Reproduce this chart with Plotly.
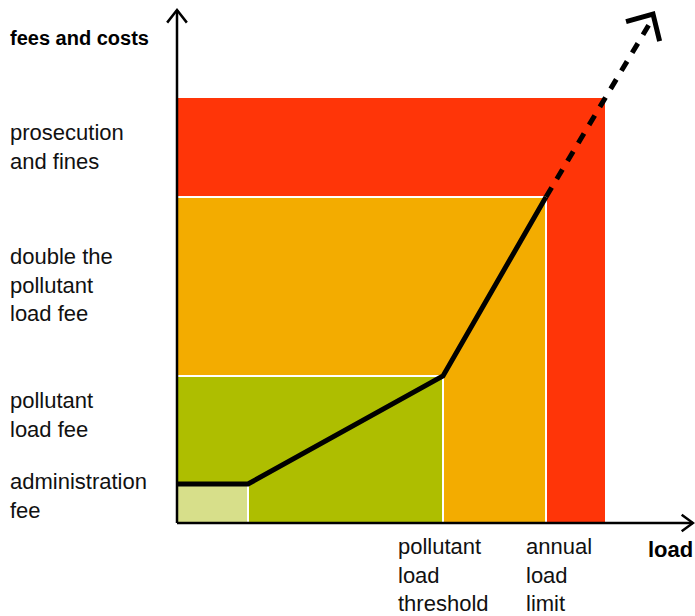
import math
import plotly.graph_objects as go

# ---- data (units: load on x, fees/costs on y) ----
zone_names = ["prosecution and fines", "double the pollutant load fee", "pollutant load fee", "administration fee"]
zone_load_end = [428, 369, 266, 71]      # right edge of each zone
zone_cost_top = [425, 326, 147, 39]      # top edge of each zone
zone_colors = ["#FF3508", "#F3AC00", "#AEBE00", "#D7DF8A"]

curve_load = [0, 71, 266, 369]
curve_cost = [39, 39, 147, 326]
trend_load = [369, 476]
trend_cost = [326, 509]

axis_x_end = 516
axis_y_end = 513

left_labels = ["prosecution<br>and fines", "double the<br>pollutant<br>load fee",
               "pollutant<br>load fee", "administration<br>fee"]
left_label_y = [376, 238, 108, 27]
bottom_labels = ["pollutant<br>load<br>threshold", "annual<br>load<br>limit"]
bottom_label_x = [219, 347]

FONT = "Liberation Sans"

fig = go.Figure()

# zones
shapes = []
for i, (xe, yt, c) in enumerate(zip(zone_load_end, zone_cost_top, zone_colors)):
    shapes.append(dict(type="rect", xref="x", yref="y", x0=0, x1=xe, y0=0, y1=yt,
                       fillcolor=c, line=dict(color="white", width=0 if i == 0 else 2),
                       layer="below"))

# axes lines
fig.add_trace(go.Scatter(x=[0, 0], y=[0, axis_y_end], mode="lines",
                         line=dict(color="black", width=2.5), hoverinfo="skip"))
fig.add_trace(go.Scatter(x=[0, axis_x_end], y=[0, 0], mode="lines",
                         line=dict(color="black", width=2.5), hoverinfo="skip"))


def chevron(tip, direction, length, half_angle_deg):
    dx, dy = direction
    n = math.hypot(dx, dy)
    bx, by = -dx / n, -dy / n
    pts = []
    for s in (1, -1):
        a = math.radians(s * half_angle_deg)
        rx = bx * math.cos(a) - by * math.sin(a)
        ry = bx * math.sin(a) + by * math.cos(a)
        pts.append((tip[0] + rx * length, tip[1] + ry * length))
    return [pts[0][0], tip[0], pts[1][0]], [pts[0][1], tip[1], pts[1][1]]


cx, cy = chevron((0, axis_y_end), (0, 1), 16, 38)
fig.add_trace(go.Scatter(x=cx, y=cy, mode="lines", line=dict(color="black", width=2.5), hoverinfo="skip"))
cx, cy = chevron((axis_x_end, 0), (1, 0), 14, 36)
fig.add_trace(go.Scatter(x=cx, y=cy, mode="lines", line=dict(color="black", width=2.5), hoverinfo="skip"))

# cost curve
fig.add_trace(go.Scatter(x=curve_load, y=curve_cost, mode="lines",
                         line=dict(color="black", width=5), hoverinfo="skip"))
fig.add_trace(go.Scatter(x=trend_load, y=[trend_cost[0], trend_cost[1] - 4], mode="lines",
                         line=dict(color="black", width=5, dash="11px,10px"), hoverinfo="skip"))
cx, cy = chevron((trend_load[1], trend_cost[1]),
                 (trend_load[1] - trend_load[0], trend_cost[1] - trend_cost[0]), 28, 44)
fig.add_trace(go.Scatter(x=cx, y=cy, mode="lines", line=dict(color="black", width=5), hoverinfo="skip"))

annotations = []
annotations.append(dict(x=-169, y=485, xref="x", yref="y", text="<b>fees and costs</b>",
                        showarrow=False, xanchor="left", yanchor="middle", align="left",
                        font=dict(family=FONT, size=20, color="black")))
for t, y in zip(left_labels, left_label_y):
    annotations.append(dict(x=-169, y=y, xref="x", yref="y", text=t, showarrow=False,
                            xanchor="left", yanchor="middle", align="left",
                            font=dict(family=FONT, size=22, color="#111111")))
for t, x in zip(bottom_labels, bottom_label_x):
    annotations.append(dict(x=x, y=-52, xref="x", yref="y", text=t, showarrow=False,
                            xanchor="left", yanchor="middle", align="left",
                            font=dict(family=FONT, size=22, color="#111111")))
annotations.append(dict(x=518, y=-26, xref="x", yref="y", text="<b>load</b>", showarrow=False,
                        xanchor="right", yanchor="middle", align="right",
                        font=dict(family=FONT, size=22, color="black")))

fig.update_layout(
    width=695, height=616,
    margin=dict(l=0, r=0, t=0, b=0),
    paper_bgcolor="white", plot_bgcolor="white",
    showlegend=False,
    hovermode=False,
    shapes=shapes,
    annotations=annotations,
    xaxis=dict(range=[-177, 518], visible=False, fixedrange=True),
    yaxis=dict(range=[-93, 523], visible=False, fixedrange=True),
)

fig.write_html(
    "out.html",
    config={"displayModeBar": False, "staticPlot": True},
    post_script="document.body.style.margin='0';document.documentElement.style.overflow='hidden';document.body.style.overflow='hidden';",
)
